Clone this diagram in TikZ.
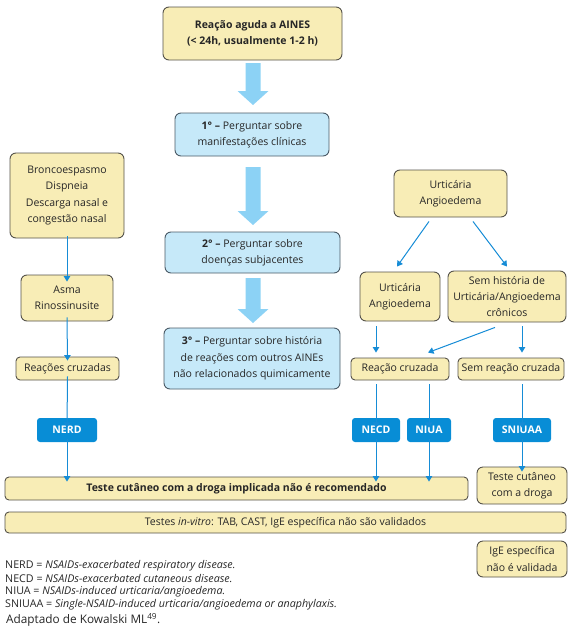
\documentclass[tikz,border=0pt]{standalone}
\usepackage{fontspec}
\setmainfont{Open Sans}
\usetikzlibrary{arrows.meta,calc}
\definecolor{yfill}{HTML}{F8EDB6}
\definecolor{ydraw}{HTML}{55524A}
\definecolor{lbfill}{HTML}{C6E9F9}
\definecolor{lbdraw}{HTML}{4A5A66}
\definecolor{barrow}{HTML}{8CD2F5}
\definecolor{conn}{HTML}{168CD6}
\definecolor{bbox}{HTML}{088DD6}
\tikzset{
  x=1pt,y=-1pt,
  base/.style={rounded corners=6pt, line width=0.9pt, align=center, inner sep=1pt,
    font=\fontsize{10.5}{16.3}\selectfont, text=black!85},
  ybox/.style={base, draw=ydraw, fill=yfill},
  lbox/.style={base, draw=lbdraw, fill=lbfill},
  bluebox/.style={rounded corners=3pt, fill=bbox, text=white, inner sep=0pt,
    font=\fontsize{10.5}{12}\selectfont\bfseries, minimum height=24},
  conna/.style={draw=conn, line width=1pt, -{Triangle[width=6.5pt,length=5.5pt]}},
  bigarr/.style={fill=barrow, draw=none},
  fnote/.style={anchor=west, inner sep=0pt, font=\fontsize{10.7}{12}\selectfont, text=black!85},
}
\newcommand{\fatarrow}[3]{% x, top y, tip y
  \fill[bigarr] (#1-7.5,#2) -- (#1+7.5,#2) -- (#1+7.5,#3-14) -- (#1+15.5,#3-14) -- (#1,#3) -- (#1-15.5,#3-14) -- (#1-7.5,#3-14) -- cycle;}
\begin{document}
\begin{tikzpicture}
\useasboundingbox (0,0) rectangle (572,629);
% center column
\node[ybox, minimum width=179, minimum height=53] (top) at (252.5,33.5)
  {\textbf{Reação aguda a AINES}\\\textbf{(< 24h, usualmente 1-2 h)}};
\node[lbox, minimum width=154, minimum height=43] (q1) at (252,134.5)
  {\textbf{1° –} Perguntar sobre\\manifestações clínicas};
\node[lbox, minimum width=175, minimum height=41] (q2) at (252.5,252.5)
  {\textbf{2° –} Perguntar sobre\\doenças subjacentes};
\node[lbox, minimum width=176, minimum height=61] (q3) at (252,358.5)
  {\textbf{3° –} Perguntar sobre história\\de reações com outros AINEs\\não relacionados quimicamente};
\fatarrow{253}{63}{105}
\fatarrow{253}{167}{225}
\fatarrow{253}{278}{323}
% left column
\node[ybox, minimum width=114, minimum height=85] (br) at (67,195.5)
  {Broncoespasmo\\Dispneia\\Descarga nasal e\\congestão nasal};
\node[ybox, minimum width=92, minimum height=46] (as) at (67,298)
  {Asma\\Rinossinusite};
\node[ybox, rounded corners=4pt, minimum width=103, minimum height=23] (rcl) at (67.5,368.5)
  {Reações cruzadas};
\node[bluebox, minimum width=60] (nerd) at (67,430) {NERD};
% right column
\node[ybox, minimum width=113, minimum height=47] (u0) at (450.5,193.5)
  {Urticária\\Angioedema};
\node[ybox, minimum width=80, minimum height=49] (u1) at (400,296.5)
  {Urticária\\Angioedema};
\node[ybox, minimum width=118, minimum height=51] (u2) at (507,296.5)
  {Sem história de\\Urticária/Angioedema\\crônicos};
\node[ybox, rounded corners=4pt, minimum width=98, minimum height=22] (rc) at (400,369)
  {Reação cruzada};
\node[ybox, rounded corners=4pt, minimum width=106, minimum height=22] (sr) at (511,369)
  {Sem reação cruzada};
\node[bluebox, minimum width=48] (necd) at (376,430) {NECD};
\node[bluebox, minimum width=44] (niua) at (429,430) {NIUA};
\node[bluebox, minimum width=58] (sniuaa) at (522,430) {SNIUAA};
% bottom boxes
\node[ybox, rounded corners=4pt, minimum width=463, minimum height=23] (big) at (236.5,488.5)
  {\textbf{Teste cutâneo com a droga implicada não é recomendado}};
\node[ybox, minimum width=90, minimum height=37] (dr) at (522,485.5)
  {Teste cutâneo\\com a droga};
\node[ybox, rounded corners=4pt, minimum width=561, minimum height=21] (iv) at (285.5,522.5)
  {Testes \textit{in-vitro}: TAB, CAST, IgE específica não são validados};
\node[ybox, minimum width=90, minimum height=36] (ige) at (522,559)
  {IgE específica\\não é validada};
% connectors left
\draw[conna] ([yshift=2]br.south) -- ([yshift=-7]as.north);
\draw[conna] ([yshift=4]as.south) -- ([yshift=-4]rcl.north);
\draw[conna] ([yshift=4]rcl.south) -- ([yshift=-10]nerd.north);
\draw[conna] ([yshift=3]nerd.south) -- ([yshift=-5]nerd.south |- big.north);
% connectors right
\draw[conna] ([shift={(-21.5,4)}]u0.south) -- ([shift={(-3,-5)}]u1.north);
\draw[conna] ([shift={(22.5,4)}]u0.south) -- ([shift={(0,-4)}]u2.north);
\draw[conna] ([shift={(-24,5)}]u1.south) -- ([shift={(-24,-5)}]rc.north);
\draw[conna] ([shift={(-12,5)}]u2.south) -- ([shift={(28,-5)}]rc.north);
\draw[conna] ([shift={(15,4)}]u2.south) -- ([shift={(11,-5)}]sr.north);
\draw[conna] ([shift={(-24,4)}]rc.south) -- ([yshift=-10]necd.north);
\draw[conna] ([shift={(29,4)}]rc.south) -- ([yshift=-10]niua.north);
\draw[conna] ([shift={(11,4)}]sr.south) -- ([yshift=-10]sniuaa.north);
\draw[conna] ([yshift=3]necd.south) -- ([yshift=-5]necd.south |- big.north);
\draw[conna] ([yshift=3]niua.south) -- ([yshift=-5]niua.south |- big.north);
\draw[conna] ([yshift=3]sniuaa.south) -- ([yshift=-5]dr.north);
% footnotes
\node[fnote] (f1) at (5,566) {NERD = \textit{NSAIDs-exacerbated respiratory disease.}};
\node[fnote] (f2) at (5,579) {NECD = \textit{NSAIDs-exacerbated cutaneous disease.}};
\node[fnote] (f3) at (5,592) {NIUA = \textit{NSAIDs-induced urticaria/angioedema.}};
\node[fnote] (f4) at (5,605) {SNIUAA = \textit{Single-NSAID-induced urticaria/angioedema or anaphylaxis.}};
\node[fnote, font=\fontsize{11.8}{13}\selectfont] (f5) at (6,620) {Adaptado de Kowalski ML\textsuperscript{49}.};
\end{tikzpicture}
\end{document}
